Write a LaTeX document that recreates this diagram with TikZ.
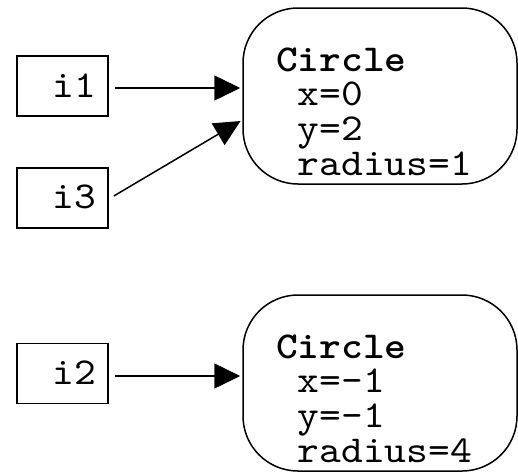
\documentclass[tikz,border=0pt]{standalone}
\usepackage{fontspec}
\usetikzlibrary{arrows.meta}
% wide, short typewriter face
\newfontfamily\recfamily{lmmono10-regular}[Extension=.otf, BoldFont=lmmonolt10-bold, FakeStretch=1.09]
\newcommand{\recfont}{\fontsize{38}{34.8}\selectfont\recfamily}
\tikzset{
  edge/.style={line width=1.5pt, -{Triangle[length=26pt,width=25pt]}},
  inbox/.style={draw, line width=1.5pt, rectangle, minimum width=91pt, minimum height=60pt, inner sep=0pt},
  shapebox/.style={draw, line width=1.5pt, rectangle, rounded corners=55pt, minimum width=274pt, minimum height=176pt, inner sep=0pt},
  reclbl/.style={inner sep=0pt, anchor=base west, align=left, font=\recfont},
  ilbl/.style={inner sep=0pt, anchor=base east, font=\recfont}
}
\begin{document}
\begin{tikzpicture}[x=1pt,y=-1pt]
\useasboundingbox (0,0) rectangle (518,472);

% input boxes
\node[inbox] (i1) at (62.5,86) {};
\node[inbox] (i3) at (62.5,198) {};
\node[inbox] (i2) at (62.5,373.5) {};
\node[ilbl] (i1t) at (96,97) {i1};
\node[ilbl] (i3t) at (96,208) {i3};
\node[ilbl] (i2t) at (96,384) {i2};

% record boxes
\node[shapebox] (c1) at (380,96) {};
\node[shapebox] (c2) at (380,383) {};

% record contents: bold type name, then one field per line
% (the base anchor of a multi-line node sits on its last line)
\node[reclbl] (c1t) at (276,175.5) {\textbf{Circle}\\\ x=0\\\ y=2\\\ radius=1};
\node[reclbl] (c2t) at (276,462.5) {\textbf{Circle}\\\ x=-1\\\ y=-1\\\ radius=4};

% connectors
\coordinate (c1in) at ([yshift=-24pt]c1.west);
\draw[edge, shorten <=6pt, shorten >=2pt] ([yshift=-2pt]i1.east) -- ([yshift=-2pt]c1.west |- i1.east);
\draw[edge, shorten <=6pt, shorten >=2pt] ([yshift=-1pt]i3.east) -- (c1in);
\draw[edge, shorten <=6pt, shorten >=2pt] ([yshift=-2.5pt]i2.east) -- ([yshift=-2.5pt]c2.west |- i2.east);
\end{tikzpicture}
\end{document}
